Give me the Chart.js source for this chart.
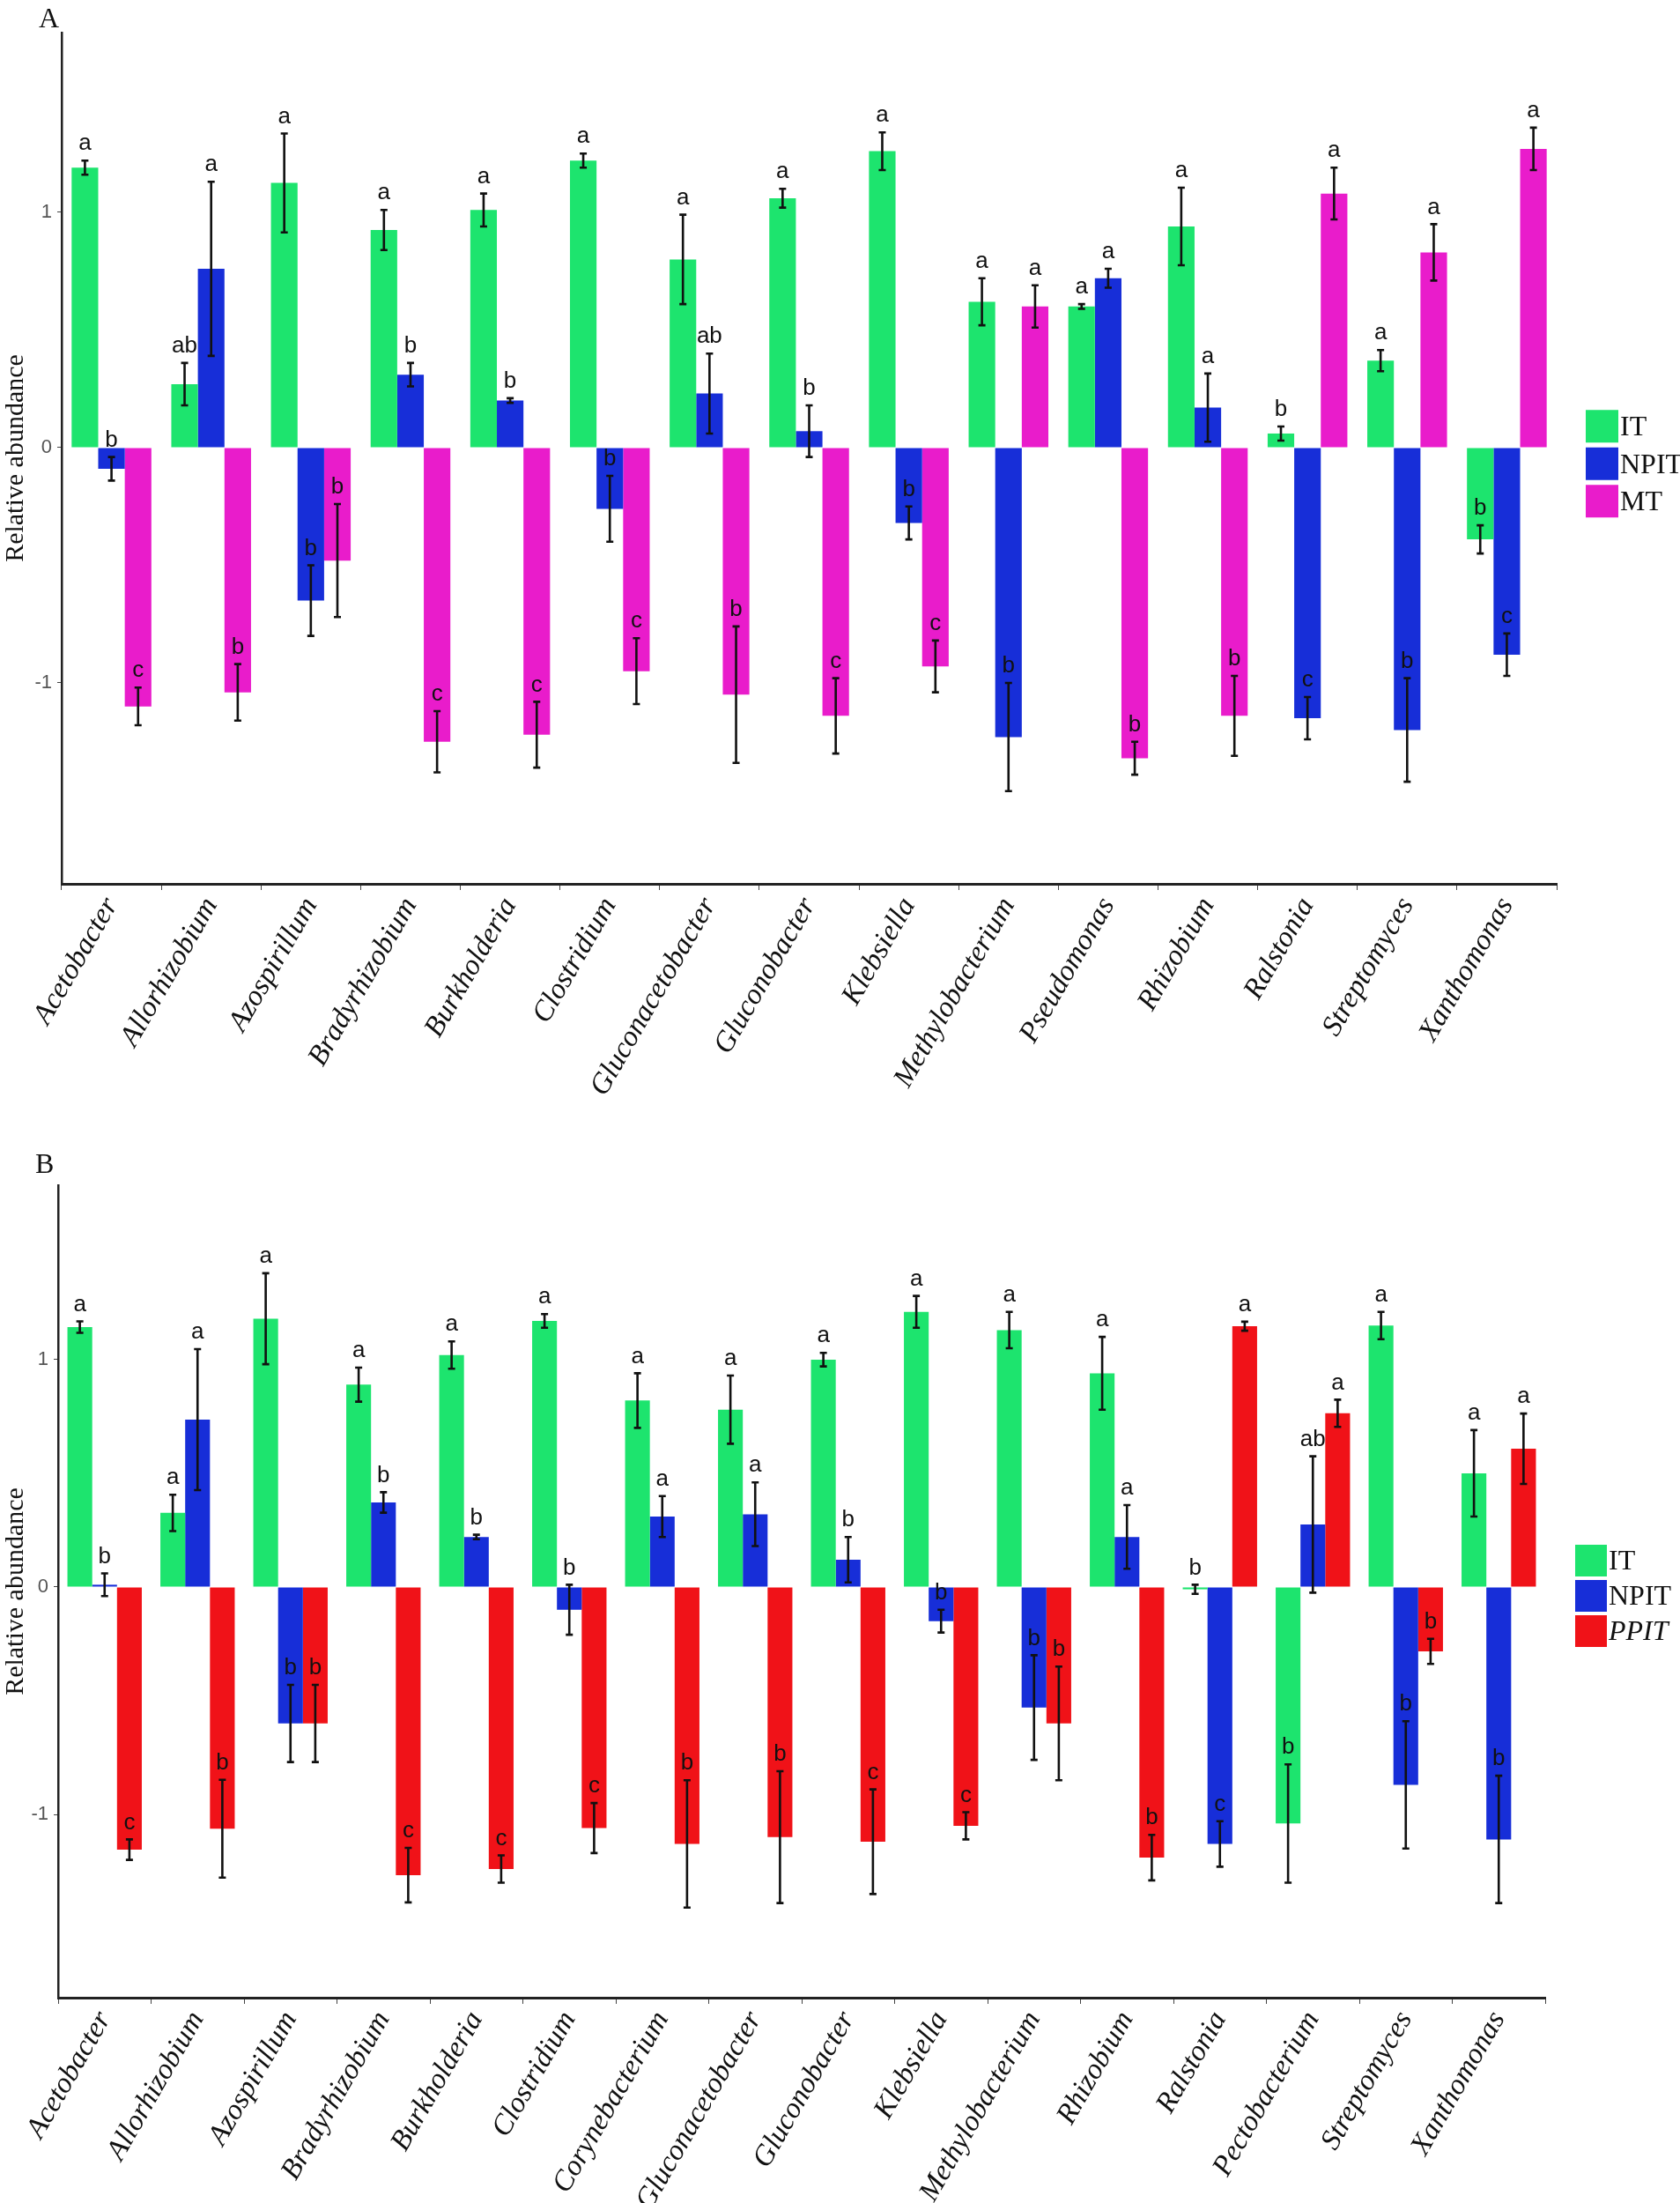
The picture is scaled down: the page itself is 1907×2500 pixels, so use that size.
<!DOCTYPE html>
<html>
<head>
<meta charset="utf-8">
<script src="https://cdn.jsdelivr.net/npm/chart.js@4.4.1/dist/chart.umd.min.js"></script>
<style>
  body { margin: 0; background: #fff; width: 1907px; height: 2500px; position: relative; overflow: hidden; }
  .wrap { position: absolute; left: 0; width: 1907px; }
  .tag { position: absolute; font-family: 'Liberation Serif', serif; font-size: 32px; color: #111; }
</style>
</head>
<body>
<div class="wrap" style="top:0;height:1290px"><canvas id="chartA" width="1907" height="1290"></canvas></div>
<div class="wrap" style="top:1290px;height:1210px"><canvas id="chartB" width="1907" height="1210"></canvas></div>
<div class="tag" style="left:44px;top:2px">A</div>
<div class="tag" style="left:40px;top:1302px">B</div>
<script>
// ---- panel A data ----
const genusA = ['Acetobacter', 'Allorhizobium', 'Azospirillum', 'Bradyrhizobium', 'Burkholderia',
    'Clostridium', 'Gluconacetobacter', 'Gluconobacter', 'Klebsiella', 'Methylobacterium',
    'Pseudomonas', 'Rhizobium', 'Ralstonia', 'Streptomyces', 'Xanthomonas'];
const itA    = [1.19, 0.27, 1.125, 0.925, 1.01, 1.22, 0.80, 1.06, 1.26, 0.62, 0.60, 0.94, 0.06, 0.37, -0.39];
const itSeA  = [0.03, 0.09, 0.21, 0.085, 0.07, 0.03, 0.19, 0.04, 0.08, 0.10, 0.01, 0.165, 0.03, 0.045, 0.06];
const itLetA = ['a', 'ab', 'a', 'a', 'a', 'a', 'a', 'a', 'a', 'a', 'a', 'a', 'b', 'a', 'b'];
const npitA    = [-0.09, 0.76, -0.65, 0.31, 0.20, -0.26, 0.23, 0.07, -0.32, -1.23, 0.72, 0.17, -1.15, -1.20, -0.88];
const npitSeA  = [0.05, 0.37, 0.15, 0.05, 0.01, 0.14, 0.17, 0.11, 0.07, 0.23, 0.04, 0.145, 0.09, 0.22, 0.09];
const npitLetA = ['b', 'a', 'b', 'b', 'b', 'b', 'ab', 'b', 'b', 'b', 'a', 'a', 'c', 'b', 'c'];
const mtA    = [-1.10, -1.04, -0.48, -1.25, -1.22, -0.95, -1.05, -1.14, -0.93, 0.60, -1.32, -1.14, 1.08, 0.83, 1.27];
const mtSeA  = [0.08, 0.12, 0.24, 0.13, 0.14, 0.14, 0.29, 0.16, 0.11, 0.09, 0.07, 0.17, 0.11, 0.12, 0.09];
const mtLetA = ['c', 'b', 'b', 'c', 'c', 'c', 'b', 'c', 'c', 'a', 'b', 'b', 'a', 'a', 'a'];

// ---- panel B data ----
const genusB = ['Acetobacter', 'Allorhizobium', 'Azospirillum', 'Bradyrhizobium', 'Burkholderia',
    'Clostridium', 'Corynebacterium', 'Gluconacetobacter', 'Gluconobacter', 'Klebsiella',
    'Methylobacterium', 'Rhizobium', 'Ralstonia', 'Pectobacterium', 'Streptomyces', 'Xanthomonas'];
const itB    = [1.143, 0.326, 1.18, 0.89, 1.02, 1.17, 0.82, 0.78, 1.00, 1.21, 1.13, 0.94, -0.01, -1.04, 1.15, 0.50];
const itSeB  = [0.025, 0.08, 0.20, 0.075, 0.06, 0.03, 0.12, 0.15, 0.03, 0.07, 0.08, 0.16, 0.02, 0.26, 0.06, 0.19];
const itLetB = ['a', 'a', 'a', 'a', 'a', 'a', 'a', 'a', 'a', 'a', 'a', 'a', 'b', 'b', 'a', 'a'];
const npitB    = [0.01, 0.736, -0.60, 0.372, 0.22, -0.10, 0.31, 0.32, 0.12, -0.15, -0.53, 0.22, -1.13, 0.275, -0.87, -1.11];
const npitSeB  = [0.05, 0.31, 0.17, 0.045, 0.01, 0.11, 0.09, 0.14, 0.10, 0.05, 0.23, 0.14, 0.10, 0.30, 0.28, 0.28];
const npitLetB = ['b', 'a', 'b', 'b', 'b', 'b', 'a', 'a', 'b', 'b', 'b', 'a', 'c', 'ab', 'b', 'b'];
const ppitB    = [-1.155, -1.063, -0.60, -1.267, -1.24, -1.06, -1.13, -1.10, -1.12, -1.05, -0.60, -1.19, 1.147, 0.764, -0.283, 0.608];
const ppitSeB  = [0.045, 0.215, 0.17, 0.12, 0.06, 0.11, 0.28, 0.29, 0.23, 0.06, 0.25, 0.10, 0.02, 0.06, 0.055, 0.155];
const ppitLetB = ['c', 'b', 'b', 'c', 'c', 'c', 'b', 'b', 'c', 'c', 'b', 'b', 'a', 'a', 'b', 'a'];

const yTicks = [-1, 0, 1];

const GREEN = '#1de46e';
const BLUE = '#172ed8';
const MAGENTA = '#e91ccb';
const RED = '#f01218';

// error bars + significance letters
const errorPlugin = {
    id: 'errbars',
    afterDatasetsDraw(chart) {
        const ctx = chart.ctx;
        const y = chart.scales.y;
        ctx.save();
        chart.data.datasets.forEach((ds, i) => {
            const meta = chart.getDatasetMeta(i);
            meta.data.forEach((bar, j) => {
                const m = ds.data[j], se = ds.se[j];
                const yHi = y.getPixelForValue(m + se);
                const yLo = y.getPixelForValue(m - se);
                ctx.strokeStyle = '#111';
                ctx.lineWidth = 2.6;
                ctx.beginPath();
                ctx.moveTo(bar.x, yHi); ctx.lineTo(bar.x, yLo);
                ctx.moveTo(bar.x - 4, yHi); ctx.lineTo(bar.x + 4, yHi);
                ctx.moveTo(bar.x - 4, yLo); ctx.lineTo(bar.x + 4, yLo);
                ctx.stroke();
                ctx.fillStyle = '#111';
                ctx.font = '26px "Liberation Sans"';
                ctx.textAlign = 'center';
                ctx.textBaseline = 'middle';
                ctx.fillText(ds.letters[j], bar.x, yHi - 19);
            });
        });
        ctx.restore();
    }
};

// legend at the right of the plot, keys stacked
const keyLegend = {
    id: 'keyLegend',
    afterDraw(chart, args, opts) {
        const ctx = chart.ctx;
        const area = chart.chartArea;
        const n = chart.data.datasets.length;
        const top = (area.top + area.bottom) / 2 + opts.shiftY - (n * opts.step) / 2;
        ctx.save();
        chart.data.datasets.forEach((ds, i) => {
            const ky = top + i * opts.step;
            ctx.fillStyle = ds.backgroundColor;
            ctx.fillRect(area.right + opts.gapX, ky, opts.key, opts.key);
            ctx.fillStyle = '#111';
            ctx.font = (ds.italic ? 'italic ' : '') + '32px "Liberation Serif"';
            ctx.textAlign = 'left';
            ctx.textBaseline = 'middle';
            ctx.fillText(ds.label, area.right + opts.gapX + opts.key + 2, ky + opts.key / 2 + 2);
        });
        ctx.restore();
    }
};

function makeChart(id, labels, sets, yMin, yMax, cfg) {
    return new Chart(document.getElementById(id), {
        type: 'bar',
        data: {
            labels: labels,
            datasets: sets.map(s => ({
                label: s.label,
                data: s.data,
                se: s.se,
                letters: s.letters,
                italic: s.italic || false,
                backgroundColor: s.color,
                borderWidth: 0,
                categoryPercentage: 0.8,
                barPercentage: 1.0
            }))
        },
        options: {
            responsive: false,
            animation: false,
            events: [],
            layout: { padding: { top: cfg.top, right: cfg.right, left: 0, bottom: 0 } },
            plugins: {
                legend: { display: false },
                tooltip: { enabled: false },
                keyLegend: cfg.legend
            },
            scales: {
                x: {
                    grid: { drawOnChartArea: false, drawTicks: true, tickLength: 7, color: '#444' },
                    border: { display: true, color: '#222', width: 3 },
                    ticks: {
                        autoSkip: false,
                        minRotation: 60,
                        maxRotation: 60,
                        padding: 2,
                        color: '#111',
                        font: { family: 'Liberation Serif', style: 'italic', size: 33 }
                    },
                    afterFit: s => { s.height = cfg.xHeight; }
                },
                y: {
                    min: yMin,
                    max: yMax,
                    afterBuildTicks: s => { s.ticks = yTicks.map(v => ({ value: v })); },
                    grid: { drawOnChartArea: false, drawTicks: true, tickLength: 5, color: '#444' },
                    border: { display: true, color: '#222', width: 2.5 },
                    ticks: {
                        padding: 6,
                        color: '#555',
                        font: { family: 'Liberation Sans', size: 22 }
                    },
                    title: {
                        display: true,
                        text: 'Relative abundance',
                        color: '#111',
                        font: { family: 'Liberation Serif', size: 30 },
                        padding: { top: 0, bottom: 4 }
                    },
                    afterFit: s => { s.width = cfg.yWidth; }
                }
            }
        },
        plugins: [errorPlugin, keyLegend]
    });
}

makeChart('chartA', genusA, [
    { label: 'IT', data: itA, se: itSeA, letters: itLetA, color: GREEN },
    { label: 'NPIT', data: npitA, se: npitSeA, letters: npitLetA, color: BLUE },
    { label: 'MT', data: mtA, se: mtSeA, letters: mtLetA, color: MAGENTA }
], -1.854, 1.764, { top: 37, right: 140, xHeight: 287, yWidth: 70,
    legend: { gapX: 33, key: 37, step: 42.5, shiftY: 9 } });

makeChart('chartB', genusB, [
    { label: 'IT', data: itB, se: itSeB, letters: itLetB, color: GREEN },
    { label: 'NPIT', data: npitB, se: npitSeB, letters: npitLetB, color: BLUE },
    { label: 'PPIT', data: ppitB, se: ppitSeB, letters: ppitLetB, color: RED, italic: true }
], -1.806, 1.767, { top: 55, right: 153, xHeight: 233, yWidth: 66,
    legend: { gapX: 34, key: 36, step: 40, shiftY: 7 } });
</script>
</body>
</html>
